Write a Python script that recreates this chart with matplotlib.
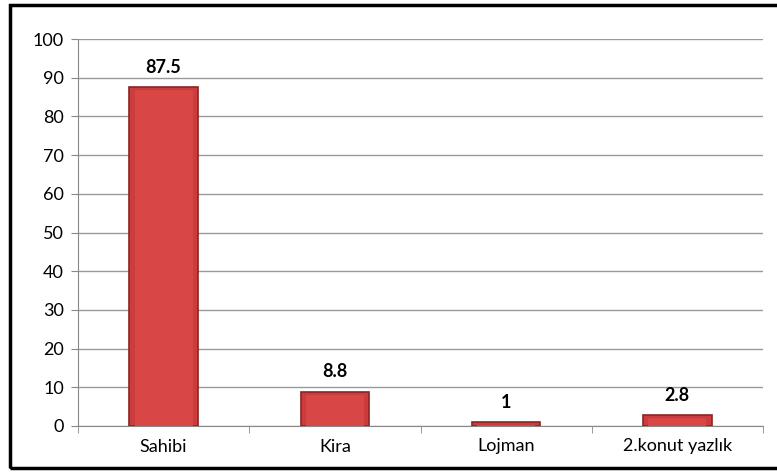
import matplotlib.pyplot as plt
import numpy as np
from matplotlib.patches import Rectangle

categories = ["Sahibi", "Kira", "Lojman", "2.konut yazlık"]
values = [87.5, 8.8, 1, 2.8]
labels = ["87.5", "8.8", "1", "2.8"]

plt.rcParams['font.family'] = ['Lato', 'DejaVu Sans']

fig = plt.figure(figsize=(7.77, 4.72), dpi=100)
ax = fig.add_axes([78 / 777, 1 - 426 / 472, (763 - 78) / 777, (426 - 39) / 472])

# frame around the whole chart (right side runs off the picture)
fig.patches.append(Rectangle((9.5 / 777, 4.5 / 472), 1.05, 1 - 9 / 472,
                             transform=fig.transFigure, fill=False,
                             edgecolor='black', linewidth=2.5, clip_on=False))

x = np.arange(len(categories))
ax.bar(x, values, width=0.4, color='#CC3C3C', edgecolor='#8A2424',
       linewidth=1.2, zorder=3)
# lighter inner face for a bevelled look
ax.bar(x, [max(v - 0.8, 0.2) for v in values], width=0.34, bottom=0,
       color='#D94646', linewidth=0, zorder=4)

for xi, v, lab in zip(x, values, labels):
    ax.text(xi, v + 3.0, lab, ha='center', va='bottom', fontsize=13,
            fontweight='bold', color='black')

ax.set_xlim(-0.5, len(categories) - 0.5)
ax.set_ylim(0, 100)
ax.set_yticks(range(0, 101, 10))
ax.set_xticks(x)
ax.set_xticklabels(categories, fontsize=13)
ax.set_xticks(np.arange(-0.5, len(categories), 1), minor=True)
ax.tick_params(axis='x', which='major', length=0, pad=9)
ax.tick_params(axis='x', which='minor', length=5, color='#888888')
ax.tick_params(axis='y', length=5, color='#888888', labelsize=13, pad=5)
ax.yaxis.grid(True, color='#999999', linewidth=1.0, zorder=0)
for s in ['top', 'right']:
    ax.spines[s].set_visible(False)
ax.spines['left'].set_color('#888888')
ax.spines['bottom'].set_color('#888888')

fig.savefig('out.png', dpi=100)
